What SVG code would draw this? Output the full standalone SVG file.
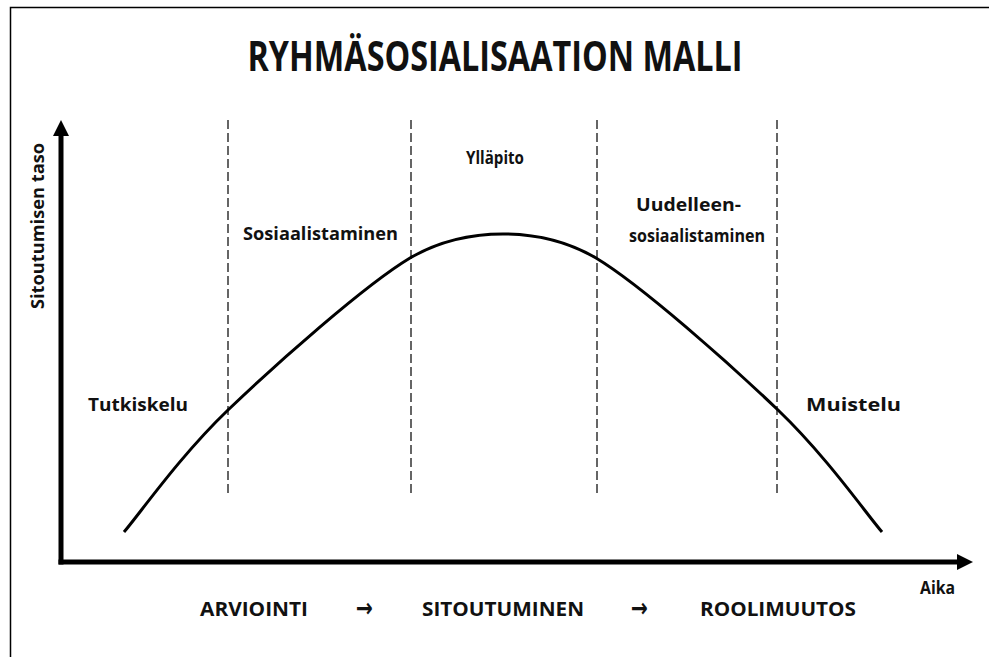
<svg xmlns="http://www.w3.org/2000/svg" width="989" height="657" viewBox="0 0 989 657">
<style>
text{font-family:"Open Sans","Liberation Sans",Arial,sans-serif;font-weight:bold;fill:#111}
.lbl{font-size:17px}
.bot{font-size:20px}
.arr{font-family:"DejaVu Sans",sans-serif;font-size:26px;font-weight:bold}
.dash{stroke:#333;stroke-width:1.5;stroke-dasharray:9 4;fill:none}
.axis{stroke:#000;stroke-width:5;fill:none}
</style>
<defs>
<marker id="ah" viewBox="0 0 10 10" refX="0" refY="5" markerWidth="3.2" markerHeight="3.4" orient="auto" markerUnits="strokeWidth">
<path d="M0,0 L10,5 L0,10 Z" fill="#000"/>
</marker>
</defs>
<rect width="989" height="657" fill="#fff"/>
<g id="frame">
<path d="M10.5,657 V7.5 H989" stroke="#000" stroke-width="1.5" fill="none"/>
</g>
<g id="title"><text x="495" y="71" font-size="41" text-anchor="middle" textLength="495" lengthAdjust="spacingAndGlyphs">RYHMÄSOSIALISAATION MALLI</text></g>
<g id="connectors">
<path class="axis" d="M61,564.5 V136" marker-end="url(#ah)"/>
<path class="axis" d="M58.5,562 H957" marker-end="url(#ah)"/>
<path class="dash" d="M228,120 V497"/>
<path class="dash" d="M411,120 V497"/>
<path class="dash" d="M597,120 V497"/>
<path class="dash" d="M777,120 V497"/>
<path id="curve" d="M124,532 C141,512 180,456 228,410 C276,364 365,285 410,258 C441,240 472,234 503,234 C534,234 565,240 596,258 C641,285 730,364 778,410 C826,456 865,512 882,532" stroke="#000" stroke-width="3" fill="none"/>
</g>
<g id="ylabel"><text class="lbl" transform="translate(44,226) rotate(-90)" text-anchor="middle" textLength="166" lengthAdjust="spacingAndGlyphs">Sitoutumisen taso</text></g>
<g id="xlabel"><text class="lbl" x="920" y="594" textLength="35" lengthAdjust="spacingAndGlyphs">Aika</text></g>
<g id="tutkiskelu"><text class="lbl" x="88" y="411" textLength="100" lengthAdjust="spacingAndGlyphs">Tutkiskelu</text></g>
<g id="sosiaalistaminen"><text class="lbl" x="243" y="240" textLength="155" lengthAdjust="spacingAndGlyphs">Sosiaalistaminen</text></g>
<g id="yllapito"><text class="lbl" x="466" y="164" textLength="58" lengthAdjust="spacingAndGlyphs">Ylläpito</text></g>
<g id="uudelleen"><text class="lbl" x="636" y="211" textLength="105" lengthAdjust="spacingAndGlyphs">Uudelleen-</text><text class="lbl" x="629" y="242" textLength="136" lengthAdjust="spacingAndGlyphs">sosiaalistaminen</text></g>
<g id="muistelu"><text class="lbl" x="806" y="411" textLength="95" lengthAdjust="spacingAndGlyphs">Muistelu</text></g>
<g id="phases">
<text class="bot" x="200" y="616" textLength="108" lengthAdjust="spacingAndGlyphs">ARVIOINTI</text>
<text class="arr" x="356" y="617" textLength="17" lengthAdjust="spacingAndGlyphs">→</text>
<text class="bot" x="422" y="616" textLength="162" lengthAdjust="spacingAndGlyphs">SITOUTUMINEN</text>
<text class="arr" x="631" y="617" textLength="17" lengthAdjust="spacingAndGlyphs">→</text>
<text class="bot" x="700" y="616" textLength="156" lengthAdjust="spacingAndGlyphs">ROOLIMUUTOS</text>
</g>
</svg>
